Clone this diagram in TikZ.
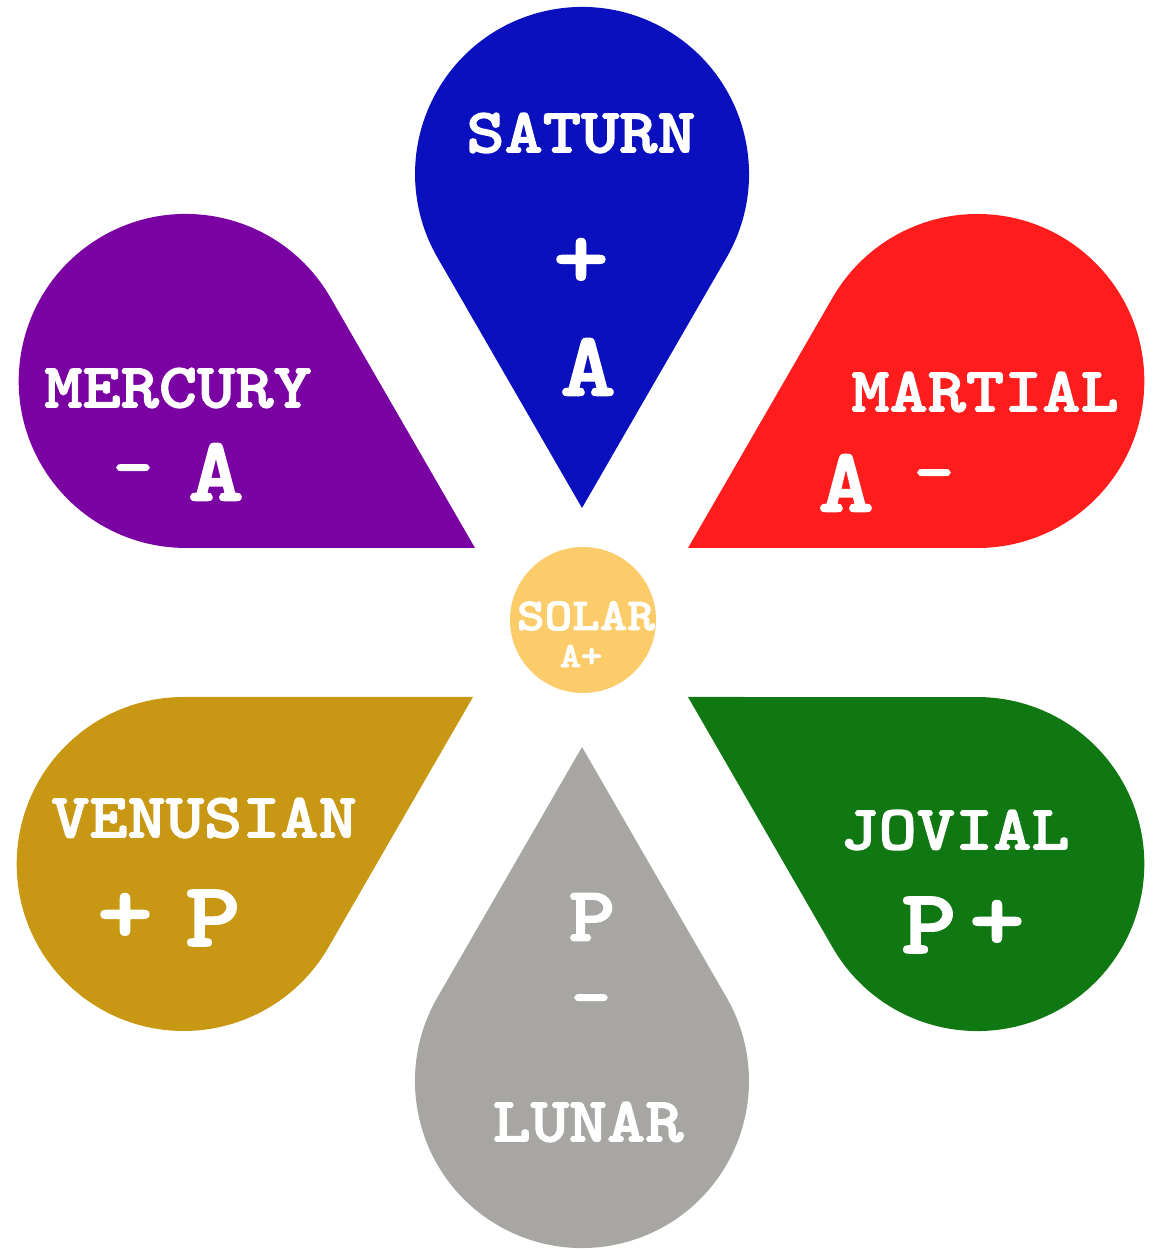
\documentclass[tikz,border=0pt]{standalone}
\usepackage{fontspec}
\usepackage{xcolor}
\usepackage{tikz}
\usetikzlibrary{positioning}
\newfontfamily\heavymono{lmmonolt10-bold}[Extension=.otf, FakeBold=2, FakeStretch=1.15]
\definecolor{saturnblue}{HTML}{0B10BE}
\definecolor{mercurypurple}{HTML}{7A02A3}
\definecolor{martialred}{HTML}{FF1C1C}
\definecolor{venusgold}{HTML}{C89814}
\definecolor{jovialgreen}{HTML}{107812}
\definecolor{lunargrey}{HTML}{A8A6A2}
\definecolor{solaryellow}{HTML}{FCCC6A}
\tikzstyle{planet}   = [text=white, inner sep=0pt,
                        font=\heavymono\fontsize{18}{18}\selectfont]
\tikzstyle{signtext} = [text=white, inner sep=0pt,
                        font=\heavymono\fontsize{26}{26}\selectfont]
\tikzstyle{minussign} = [text=white, inner sep=0pt, anchor=base,
                        font=\heavymono\fontsize{19}{19}\selectfont]
\tikzstyle{sunball}  = [circle, fill=solaryellow, minimum size=1.46cm, inner sep=0pt]
% petal: tip, direction of the round end, colour
\newcommand{\petal}[3]{%
  \fill[#3, shift={#1}, rotate=#2-90] (0,0) -- (60:2.893)
    arc[start angle=-30, end angle=210, radius=1.67] -- cycle;}

\begin{document}
\begin{tikzpicture}
  \useasboundingbox (0,0) rectangle (11.55,12.5);

  \petal{(5.82,7.42)}{90}{saturnblue}
  \petal{(6.88,7.02)}{30}{martialred}
  \petal{(6.88,5.53)}{-30}{jovialgreen}
  \petal{(5.82,5.03)}{270}{lunargrey}
  \petal{(4.73,5.53)}{210}{venusgold}
  \petal{(4.75,7.02)}{150}{mercurypurple}

  \node[sunball] (sun) at (5.83,6.30) {};
  \node[planet, font=\heavymono\fontsize{13}{13}\selectfont] (solar) at (5.86,6.34) {SOLAR};
  \node[planet, font=\heavymono\fontsize{10}{10}\selectfont] (solarsign) at (5.81,5.94) {A+};

  \node[planet] (saturn) at (5.81,11.17) {SATURN};
  \node[signtext] (saturnplus) at (5.81,9.87) {+};
  \node[signtext] (saturna) at (5.88,8.83) {A};

  \node[planet] (mercury) at (1.78,8.62) {MERCURY};
  \node[minussign] (mercuryminus) at (1.33,7.62) {-};
  \node[signtext] (mercurya) at (2.16,7.78) {A};

  \node[planet] (martial) at (9.85,8.58) {MARTIAL};
  \node[signtext] (martiala) at (8.46,7.67) {A};
  \node[minussign] (martialminus) at (9.34,7.57) {-};

  \node[planet] (venusian) at (2.04,4.32) {VENUSIAN};
  \node[signtext] (venusplus) at (1.25,3.32) {+};
  \node[signtext] (venusp) at (2.13,3.32) {P};

  \node[planet] (jovial) at (9.55,4.20) {JOVIAL};
  \node[signtext] (jovialp) at (9.29,3.25) {P};
  \node[signtext] (jovialplus) at (9.97,3.25) {+};

  \node[signtext, font=\heavymono\fontsize{22}{22}\selectfont] (lunarp) at (5.92,3.33) {P};
  \node[minussign] (lunarminus) at (5.91,2.32) {-};
  \node[planet] (lunar) at (5.88,1.28) {LUNAR};
\end{tikzpicture}
\end{document}
